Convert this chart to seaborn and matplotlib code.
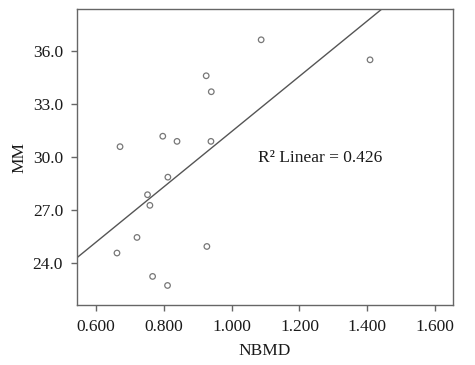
import numpy as np
import pandas as pd
import matplotlib
matplotlib.use("Agg")
import matplotlib.pyplot as plt
import seaborn as sns

nbmd = [0.671, 0.797, 0.839, 0.925, 0.940, 0.939, 0.812, 1.087, 1.408,
        0.752, 0.759, 0.721, 0.662, 0.767, 0.811, 0.927]
mm = [30.59, 31.18, 30.89, 34.59, 33.69, 30.89, 28.87, 36.62, 35.49,
      27.88, 27.28, 25.47, 24.59, 23.27, 22.76, 24.96]
x_ticks = [0.6, 0.8, 1.0, 1.2, 1.4, 1.6]
y_ticks = [24.0, 27.0, 30.0, 33.0, 36.0]
r2_label = "R\u00b2 Linear = 0.426"

df = pd.DataFrame({"NBMD": nbmd, "MM": mm})

sns.set_style("ticks")
plt.rcParams["font.family"] = ["Liberation Serif", "DejaVu Serif"]

fig, ax = plt.subplots(figsize=(4.75, 3.65), dpi=100)
fig.subplots_adjust(left=0.162, right=0.954, top=0.975, bottom=0.164)

ax.set_xlim(0.544, 1.653)
ax.set_ylim(21.65, 38.35)

sns.regplot(data=df, x="NBMD", y="MM", ax=ax, ci=None, truncate=False,
            scatter_kws=dict(s=16, facecolors="none", edgecolors="#555555", linewidths=0.9),
            line_kws=dict(color="#555555", linewidth=1.0))

ax.set_xlim(0.544, 1.653)
ax.set_ylim(21.65, 38.35)
ax.set_xticks(x_ticks)
ax.set_xticklabels([f"{v:.3f}" for v in x_ticks])
ax.set_yticks(y_ticks)
ax.set_yticklabels([f"{v:.1f}" for v in y_ticks])

for s in ax.spines.values():
    s.set_visible(True)
    s.set_color("#666666")
    s.set_linewidth(1.0)

ax.tick_params(axis="both", direction="out", length=4, width=1, color="#666666",
               labelsize=12.5, labelcolor="#1a1a1a", pad=6,
               bottom=True, left=True, top=False, right=False)
ax.set_xlabel("NBMD", fontsize=12.5, color="#1a1a1a", labelpad=6)
ax.set_ylabel("MM", fontsize=12.5, color="#1a1a1a", labelpad=4)

ax.text(1.078, 29.93, r2_label, fontsize=12.5, color="#1a1a1a", va="center", ha="left")

fig.savefig("out.png", dpi=100)
